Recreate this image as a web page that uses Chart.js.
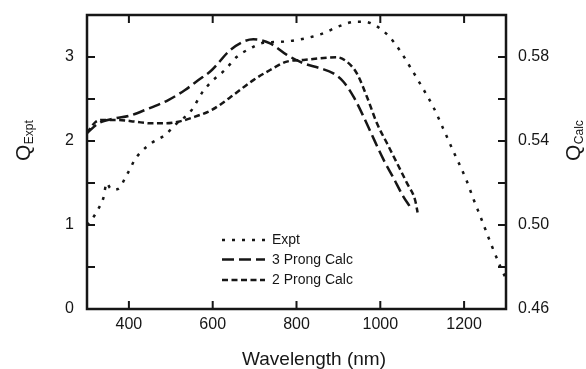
<!DOCTYPE html>
<html>
<head>
<meta charset="utf-8">
<script src="https://cdn.jsdelivr.net/npm/chart.js@4"></script>
<style>
  html, body { margin: 0; padding: 0; background: #fff; }
</style>
</head>
<body>
<canvas id="chart" width="586" height="369"></canvas>
<script>
// values
const exptWl = [300, 312, 327, 339, 347, 355, 365, 379, 391, 403, 413, 427, 455, 486, 510, 550, 574, 598, 630, 657, 689, 721, 761, 809, 857, 904, 940, 962, 990, 1020, 1045, 1075, 1100, 1127, 1150, 1175, 1205, 1223, 1239, 1263, 1287, 1300];
const exptQ  = [1.00, 1.07, 1.19, 1.32, 1.50, 1.44, 1.42, 1.45, 1.56, 1.67, 1.77, 1.86, 1.98, 2.07, 2.19, 2.37, 2.57, 2.71, 2.85, 3.00, 3.10, 3.17, 3.18, 3.21, 3.27, 3.37, 3.42, 3.42, 3.37, 3.25, 3.09, 2.85, 2.64, 2.40, 2.15, 1.87, 1.54, 1.30, 1.10, 0.79, 0.50, 0.36];

const prong3Wl = [300, 327, 367, 399, 439, 494, 534, 566, 598, 640, 673, 697, 737, 777, 817, 857, 888, 912, 936, 960, 980, 1008, 1032, 1055, 1070];
const prong3Q  = [0.5438, 0.5484, 0.5508, 0.5519, 0.5548, 0.5595, 0.5643, 0.5690, 0.5738, 0.5830, 0.5873, 0.5884, 0.5865, 0.5810, 0.5770, 0.5746, 0.5722, 0.5682, 0.5611, 0.5516, 0.5429, 0.5310, 0.5222, 0.5135, 0.5090];

const prong2Wl = [300, 320, 335, 375, 415, 455, 486, 518, 558, 598, 640, 697, 737, 777, 817, 857, 896, 920, 944, 968, 992, 1016, 1040, 1064, 1083, 1089];
const prong2Q  = [0.5438, 0.5490, 0.5500, 0.5500, 0.5492, 0.5484, 0.5484, 0.5492, 0.5516, 0.5548, 0.5605, 0.5690, 0.5738, 0.5778, 0.5786, 0.5794, 0.5799, 0.5778, 0.5722, 0.5611, 0.5484, 0.5389, 0.5294, 0.5198, 0.5119, 0.5060];

const xTicks = [400, 600, 800, 1000, 1200];
const leftTicks = [0, 0.5, 1, 1.5, 2, 2.5, 3, 3.5];
const leftLabels = [0, 1, 2, 3];
const rightTicks = [0.46, 0.48, 0.50, 0.52, 0.54, 0.56, 0.58, 0.60];
const rightLabels = [0.46, 0.50, 0.54, 0.58];

const INK = "#161616";
const FONT = "'Liberation Sans', Arial, sans-serif";

function toPoints(xs, ys) {
  return xs.map((x, i) => ({ x, y: ys[i] }));
}

const series = [
  { label: "Expt", data: toPoints(exptWl, exptQ), axis: "yL", dash: [3, 7] },
  { label: "3 Prong Calc", data: toPoints(prong3Wl, prong3Q), axis: "yR", dash: [12, 5] },
  { label: "2 Prong Calc", data: toPoints(prong2Wl, prong2Q), axis: "yR", dash: [6, 3.5] }
];

// frame, inward ticks, axis titles and the legend
const decor = {
  id: "decor",
  afterDraw(chart) {
    const ctx = chart.ctx;
    const a = chart.chartArea;
    const x = chart.scales.x, yL = chart.scales.yL, yR = chart.scales.yR;
    const tick = 8;
    ctx.save();
    ctx.strokeStyle = INK;
    ctx.lineWidth = 2.5;
    ctx.setLineDash([]);
    ctx.strokeRect(a.left, a.top, a.right - a.left, a.bottom - a.top);

    ctx.lineWidth = 2;
    ctx.beginPath();
    x.ticks.forEach(t => {
      const px = x.getPixelForValue(t.value);
      ctx.moveTo(px, a.bottom); ctx.lineTo(px, a.bottom - tick);
      ctx.moveTo(px, a.top); ctx.lineTo(px, a.top + tick);
    });
    yL.ticks.forEach(t => {
      const py = yL.getPixelForValue(t.value);
      ctx.moveTo(a.left, py); ctx.lineTo(a.left + tick, py);
    });
    yR.ticks.forEach(t => {
      const py = yR.getPixelForValue(t.value);
      ctx.moveTo(a.right, py); ctx.lineTo(a.right - tick, py);
    });
    ctx.stroke();

    // x title
    ctx.fillStyle = INK;
    ctx.font = `19px ${FONT}`;
    ctx.textAlign = "center";
    ctx.textBaseline = "alphabetic";
    ctx.fillText("Wavelength (nm)", 314, 365);

    // rotated titles with subscripts
    function subTitle(main, sub, bx, startY) {
      ctx.save();
      ctx.translate(bx, startY);
      ctx.rotate(-Math.PI / 2);
      ctx.textAlign = "left";
      ctx.textBaseline = "alphabetic";
      ctx.font = `21px ${FONT}`;
      ctx.fillText(main, 0, 0);
      const w = ctx.measureText(main).width;
      ctx.font = `12px ${FONT}`;
      ctx.fillText(sub, w + 0.5, 3);
      ctx.restore();
    }
    subTitle("Q", "Expt", 30, 161);
    subTitle("Q", "Calc", 580, 161);

    // legend
    const lx0 = 222, lx1 = 265, tx = 272;
    const rows = [240, 259.5, 280];
    ctx.font = `14px ${FONT}`;
    ctx.textAlign = "left";
    ctx.textBaseline = "middle";
    chart.data.datasets.forEach((ds, i) => {
      ctx.lineWidth = 2.5;
      ctx.setLineDash(ds.borderDash);
      ctx.beginPath();
      ctx.moveTo(lx0, rows[i]);
      ctx.lineTo(lx1, rows[i]);
      ctx.stroke();
      ctx.setLineDash([]);
      ctx.fillText(ds.label, tx, rows[i] + 0.5);
    });
    ctx.restore();
  }
};

function noPad(s) {
  s.paddingTop = 0; s.paddingBottom = 0; s.paddingLeft = 0; s.paddingRight = 0;
}

new Chart(document.getElementById("chart"), {
  type: "line",
  data: {
    datasets: series.map(s => ({
      label: s.label,
      data: s.data,
      yAxisID: s.axis,
      borderColor: INK,
      borderWidth: 2.5,
      borderDash: s.dash,
      pointRadius: 0,
      fill: false,
      cubicInterpolationMode: "monotone"
    }))
  },
  options: {
    responsive: false,
    animation: false,
    layout: { padding: { top: 15, left: 0, right: 0, bottom: 0 } },
    plugins: { legend: { display: false }, tooltip: { enabled: false } },
    scales: {
      x: {
        type: "linear",
        min: 300, max: 1300,
        grid: { display: false, drawTicks: false },
        border: { display: false },
        afterBuildTicks: s => { s.ticks = xTicks.map(value => ({ value })); },
        afterFit: s => { s.height = 60; noPad(s); },
        ticks: { color: INK, padding: 6, font: { family: FONT, size: 16 }, maxRotation: 0, callback: v => String(v) }
      },
      yL: {
        type: "linear",
        position: "left",
        min: 0, max: 3.5,
        grid: { display: false, drawTicks: false },
        border: { display: false },
        afterBuildTicks: s => { s.ticks = leftTicks.map(value => ({ value })); },
        afterFit: s => { s.width = 87; noPad(s); },
        ticks: { color: INK, padding: 13, font: { family: FONT, size: 16 }, callback: v => leftLabels.includes(v) ? String(v) : "" }
      },
      yR: {
        type: "linear",
        position: "right",
        min: 0.46, max: 0.60,
        grid: { display: false, drawTicks: false },
        border: { display: false },
        afterBuildTicks: s => { s.ticks = rightTicks.map(value => ({ value })); },
        afterFit: s => { s.width = 80; noPad(s); },
        ticks: { color: INK, padding: 12, font: { family: FONT, size: 16 }, callback: v => rightLabels.includes(v) ? v.toFixed(2) : "" }
      }
    }
  },
  plugins: [decor]
});
</script>
</body>
</html>
